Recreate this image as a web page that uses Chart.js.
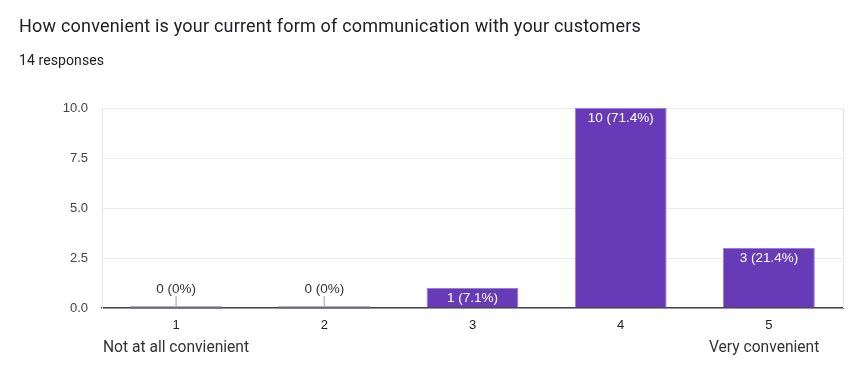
<!DOCTYPE html>
<html>
<head>
<meta charset="utf-8">
<script src="https://cdn.jsdelivr.net/npm/chart.js@4"></script>
<style>
  html, body { margin: 0; padding: 0; background: #fff; }
  #wrap { position: relative; width: 858px; height: 382px; overflow: hidden; }
  #c { position: absolute; left: 0; top: 0; }
  .txt { position: absolute; white-space: nowrap; font-family: Roboto, Arial, sans-serif; color: #202124; line-height: 1; }
  #title { left: 19px; top: 17px; font-size: 18px; letter-spacing: 0.2px; }
  #sub { left: 19px; top: 53px; font-size: 14px; letter-spacing: 0.1px; }
  #lo { left: 103px; top: 340px; font-size: 15.6px; color: #333; }
  #hi { left: 709px; top: 340px; font-size: 15.6px; color: #333; }
</style>
</head>
<body>
<div id="wrap">
  <canvas id="c" width="858" height="382"></canvas>
  <div class="txt" id="title">How convenient is your current form of communication with your customers</div>
  <div class="txt" id="sub">14 responses</div>
  <div class="txt" id="lo">Not at all convienient</div>
  <div class="txt" id="hi">Very convenient</div>
</div>
<script>
const categories = ['1', '2', '3', '4', '5'];
const counts = [0, 0, 1, 10, 3];
const percents = ['0%', '0%', '7.1%', '71.4%', '21.4%'];
const yTicks = [0, 2.5, 5, 7.5, 10];

const labelPlugin = {
  id: 'barLabels',
  afterDatasetsDraw(chart) {
    const ctx = chart.ctx;
    const meta = chart.getDatasetMeta(0);
    const yScale = chart.scales.y;
    const area = chart.chartArea;
    ctx.save();
    ctx.strokeStyle = '#e6e6e6';
    ctx.lineWidth = 1;
    ctx.beginPath();
    ctx.moveTo(Math.round(area.right) + 0.5, area.top);
    ctx.lineTo(Math.round(area.right) + 0.5, area.bottom);
    ctx.stroke();
    ctx.font = '13.5px "Liberation Sans", Arial, sans-serif';
    ctx.textAlign = 'center';
    ctx.textBaseline = 'middle';
    meta.data.forEach((bar, i) => {
      const v = counts[i];
      const text = v + ' (' + percents[i] + ')';
      const base = yScale.getPixelForValue(0);
      if (v === 0) {
        const half = bar.width / 2;
        ctx.strokeStyle = '#6a6584';
        ctx.lineWidth = 2;
        ctx.beginPath();
        ctx.moveTo(bar.x - half, base - 0.5);
        ctx.lineTo(bar.x + half, base - 0.5);
        ctx.stroke();
        ctx.strokeStyle = '#bdbdbd';
        ctx.lineWidth = 1.5;
        ctx.beginPath();
        ctx.moveTo(bar.x, base - 12);
        ctx.lineTo(bar.x, base - 1);
        ctx.stroke();
        ctx.fillStyle = '#333';
        ctx.fillText(text, bar.x, base - 19);
      } else {
        ctx.fillStyle = '#ffffff';
        ctx.fillText(text, bar.x, bar.y + 10);
      }
    });
    ctx.restore();
  }
};

new Chart(document.getElementById('c'), {
  type: 'bar',
  data: {
    labels: categories,
    datasets: [{
      data: counts,
      backgroundColor: '#673ab7',
      borderColor: '#9a7fd1',
      borderWidth: 1,
      categoryPercentage: 1,
      barPercentage: 0.62
    }]
  },
  options: {
    responsive: false,
    animation: false,
    events: [],
    layout: { padding: { top: 108, right: 15, left: 0, bottom: 0 } },
    plugins: { legend: { display: false }, tooltip: { enabled: false } },
    scales: {
      x: {
        grid: { display: false, drawTicks: false },
        border: { display: true, color: '#444', width: 1.5 },
        ticks: {
          color: '#222',
          font: { family: '"Liberation Sans", Arial, sans-serif', size: 13 },
          padding: 10
        },
        afterFit(s) { s.height = 74; }
      },
      y: {
        min: 0,
        max: 10,
        afterBuildTicks(s) { s.ticks = yTicks.map(v => ({ value: v })); },
        grid: { color: '#ebebeb', drawTicks: false, lineWidth: 1 },
        border: { display: true, color: '#e6e6e6' },
        ticks: {
          color: '#444',
          font: { family: '"Liberation Sans", Arial, sans-serif', size: 13 },
          padding: 14,
          callback: v => Number(v).toFixed(1)
        },
        afterFit(s) { s.width = 102; }
      }
    }
  },
  plugins: [labelPlugin]
});
</script>
</body>
</html>
